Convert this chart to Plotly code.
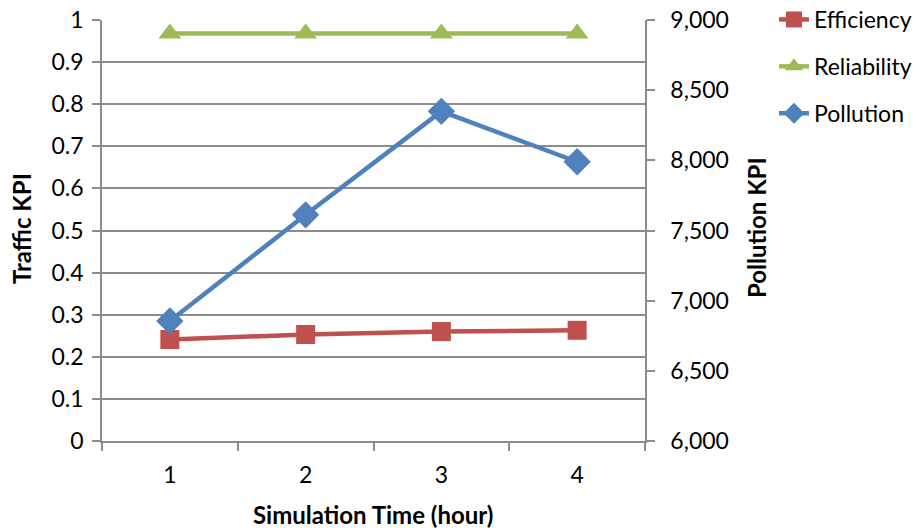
import plotly.graph_objects as go

hours = ["1", "2", "3", "4"]
efficiency = [0.241, 0.253, 0.260, 0.263]
reliability = [0.968, 0.968, 0.968, 0.968]
pollution = [6855, 7612, 8349, 7990]

FONT = "Lato, 'Liberation Sans', sans-serif"
GRID = "#8c8c8c"
L, R, T, B = 102, 277, 20, 87
W, H = 922, 528
PW, PH = W - L - R, H - T - B

def px_x(px):
    return (px - L) / PW

def px_y(py):
    return (H - B - py) / PH

fig = go.Figure()
fig.add_trace(go.Scatter(x=hours, y=efficiency, name="Efficiency", mode="lines+markers",
                         line=dict(color="#C0504D", width=4.5),
                         marker=dict(symbol="square", size=19, color="#C0504D"),
                         legendgroup="a"))
fig.add_trace(go.Scatter(x=hours, y=reliability, name="Reliability", mode="lines+markers",
                         line=dict(color="#9BBB59", width=4.5),
                         marker=dict(symbol="triangle-up", size=20, color="#9BBB59"),
                         legendgroup="b"))
fig.add_trace(go.Scatter(x=hours, y=pollution, name="Pollution", mode="lines+markers",
                         line=dict(color="#4F81BD", width=4.5),
                         marker=dict(symbol="diamond", size=21, color="#4F81BD"),
                         yaxis="y2", legendgroup="c"))

title_font = dict(family=FONT, size=24, color="black")

fig.update_layout(
    width=W, height=H,
    margin=dict(l=L, r=R, t=T, b=B, autoexpand=False),
    paper_bgcolor="white", plot_bgcolor="white",
    font=dict(family=FONT, size=23, color="black"),
    showlegend=True,
    legend=dict(x=px_x(774), xanchor="left", y=px_y(-2), yanchor="top",
                traceorder="grouped", tracegroupgap=14,
                font=dict(size=23), bgcolor="rgba(0,0,0,0)"),
    xaxis=dict(type="category", range=[-0.5, 3.5], tickson="boundaries", ticks="outside",
               ticklen=8, tickcolor=GRID, tickwidth=1.5, showline=True, linecolor=GRID,
               linewidth=1.5, showgrid=False, tickfont=dict(size=23), ticklabelstandoff=13,
               automargin=False),
    yaxis=dict(range=[0, 1], dtick=0.1, ticks="outside", ticklen=8, tickcolor=GRID,
               tickwidth=1.5, showline=True, linecolor=GRID, linewidth=1.5,
               showgrid=True, gridcolor=GRID, gridwidth=1.5, zeroline=False,
               tickfont=dict(size=23), ticklabelstandoff=4, automargin=False),
    yaxis2=dict(range=[6000, 9000], dtick=500, overlaying="y", side="right",
                ticks="outside", ticklen=8, tickcolor=GRID, tickwidth=1.5, tickformat=",",
                showline=True, linecolor=GRID, linewidth=1.5, showgrid=False, zeroline=False,
                tickfont=dict(size=23), ticklabelstandoff=11, automargin=False),
    annotations=[
        dict(text="<b>Simulation Time (hour)</b>", xref="paper", yref="paper",
             x=px_x(373), y=px_y(514), showarrow=False, font=title_font,
             xanchor="center", yanchor="middle"),
        dict(text="<b>Traffic KPI</b>", xref="paper", yref="paper",
             x=px_x(21), y=px_y(229), showarrow=False, font=title_font, textangle=-90,
             xanchor="center", yanchor="middle"),
        dict(text="<b>Pollution KPI</b>", xref="paper", yref="paper",
             x=px_x(756), y=px_y(228), showarrow=False, font=title_font, textangle=-90,
             xanchor="center", yanchor="middle"),
    ],
)

fig.write_html("out.html", config={"displayModeBar": False},
               post_script="document.body.style.margin='0px';document.body.style.overflow='hidden';")
